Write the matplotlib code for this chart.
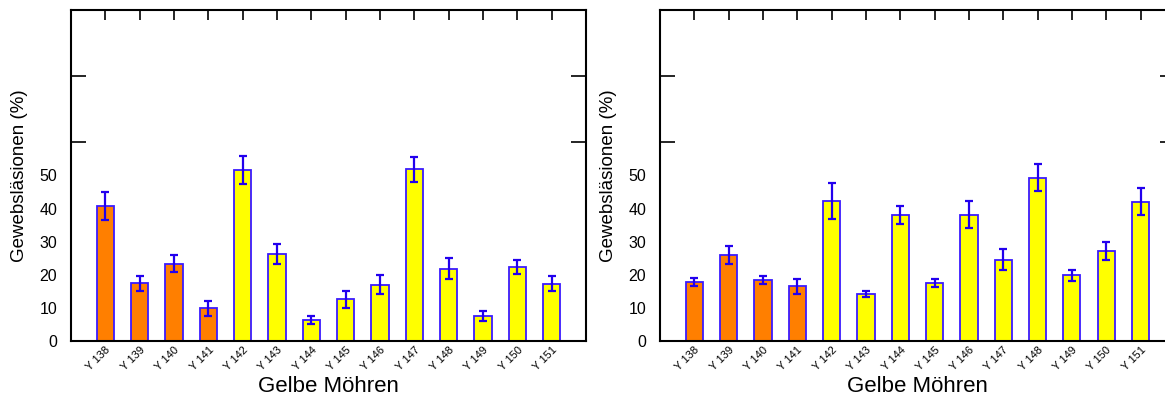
import numpy as np
import matplotlib.pyplot as plt

plt.rcParams['font.family'] = ['Liberation Sans', 'DejaVu Sans']

sorten = ['Y 138', 'Y 139', 'Y 140', 'Y 141', 'Y 142', 'Y 143', 'Y 144',
          'Y 145', 'Y 146', 'Y 147', 'Y 148', 'Y 149', 'Y 150', 'Y 151']

# linkes Diagramm
werte_a = [40.8, 17.4, 23.3, 9.9, 51.7, 26.4, 6.3, 12.6, 17.0, 51.9, 21.8, 7.6, 22.4, 17.3]
fehler_a = [4.1, 2.2, 2.6, 2.2, 4.2, 3.0, 1.2, 2.5, 2.9, 3.8, 3.2, 1.6, 2.2, 2.3]

# rechtes Diagramm
werte_b = [17.7, 25.9, 18.4, 16.5, 42.3, 14.2, 38.0, 17.6, 38.2, 24.6, 49.3, 19.8, 27.2, 42.1]
fehler_b = [1.2, 2.7, 1.2, 2.2, 5.3, 1.0, 2.7, 1.2, 4.1, 3.2, 4.1, 1.6, 2.7, 4.1]

farben = ['#FF7F00'] * 4 + ['#FFFF00'] * 10
ytick_lab = [0, 10, 20, 30, 40, 50]
ytick_mark = [20, 40, 60, 80]

fig = plt.figure(figsize=(11.65, 3.98), dpi=100)
ax1 = fig.add_axes([0.061, 0.1432, 0.442, 0.8317])
ax2 = fig.add_axes([0.5665, 0.1432, 0.442, 0.8317])


def zeichne(ax, werte, fehler):
    x = np.arange(len(sorten))
    ax.bar(x, werte, width=0.5, color=farben, edgecolor='#3A1AFF', linewidth=1.3, zorder=2)
    ax.errorbar(x, werte, yerr=fehler, fmt='none', ecolor='#2200EE', elinewidth=1.6,
                capsize=3, capthick=1.6, zorder=3)
    ax.set_xlim(-1, 14)
    ax.set_ylim(0, 100)
    ax.set_xticks(x)
    ax.set_xticklabels(sorten, rotation=45, ha='right', rotation_mode='anchor', fontsize=8)
    ax.tick_params(axis='x', bottom=False, top=True, direction='in', length=7, width=1.2,
                   labelbottom=True, pad=3)
    ax.set_yticks(ytick_lab)
    ax.set_yticklabels([str(v) for v in ytick_lab], fontsize=11.5)
    ax.tick_params(axis='y', which='major', length=0, pad=10)
    ax.set_yticks(ytick_mark, minor=True)
    ax.tick_params(axis='y', which='minor', direction='in', length=11, width=1.2,
                   left=True, right=True)
    for s in ax.spines.values():
        s.set_linewidth(1.5)
    ax.set_xlabel('Gelbe Möhren', fontsize=16, va='bottom')
    ax.xaxis.set_label_coords(0.5, -0.168)
    ax.set_ylabel('Gewebsläsionen (%)', fontsize=13.5, labelpad=8)


zeichne(ax1, werte_a, fehler_a)
zeichne(ax2, werte_b, fehler_b)

fig.savefig('out.png', dpi=100)
